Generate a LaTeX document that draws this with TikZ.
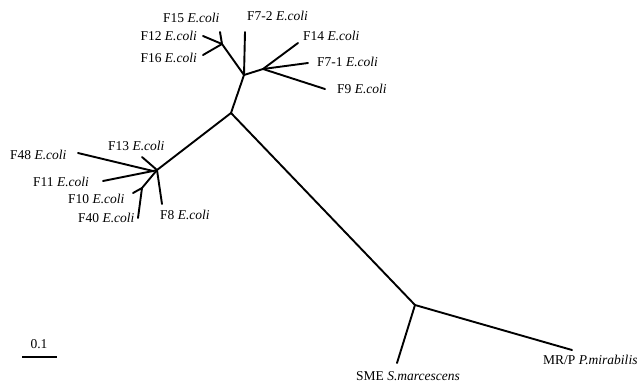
\documentclass[tikz,border=0pt]{standalone}
\usepackage{fontspec}
\setmainfont{Liberation Serif}
\begin{document}
\begin{tikzpicture}[x=1pt,y=-1pt,
  br/.style={line width=1.9pt, line cap=round, line join=round},
  lab/.style={inner sep=0pt, font=\fontsize{13.5}{15}\selectfont}]
\useasboundingbox (0,0) rectangle (637,384);
% internal nodes
\coordinate (A) at (231,113);
\coordinate (B) at (415,305);
\coordinate (C) at (244,75);
\coordinate (D) at (222,44);
\coordinate (E) at (263,69);
\coordinate (G) at (157,170);
\coordinate (K) at (153,171);
\coordinate (H) at (142,188);
% leaves
\coordinate (lSME) at (397,363);
\coordinate (lMRP) at (572,350);
\coordinate (lF15) at (220,32);
\coordinate (lF12) at (203,36);
\coordinate (lF16) at (203,55);
\coordinate (lF72) at (245,32);
\coordinate (lF14) at (298,43);
\coordinate (lF71) at (308,63);
\coordinate (lF9) at (325,89);
\coordinate (lF13) at (142,157);
\coordinate (lF8) at (162,204);
\coordinate (lF48) at (78,153);
\coordinate (lF11) at (103,181);
\coordinate (lF10) at (133,193);
\coordinate (lF40) at (138,218);
% branches
\draw[br] (A) -- (B);
\draw[br] (B) -- (lSME);
\draw[br] (B) -- (lMRP);
\draw[br] (A) -- (C);
\draw[br] (C) -- (D);
\draw[br] (D) -- (lF15);
\draw[br] (D) -- (lF12);
\draw[br] (D) -- (lF16);
\draw[br] (C) -- (lF72);
\draw[br] (C) -- (E);
\draw[br] (E) -- (lF14);
\draw[br] (E) -- (lF71);
\draw[br] (E) -- (lF9);
\draw[br] (A) -- (G);
\draw[br] (G) -- (lF13);
\draw[br] (G) -- (lF8);
\draw[br] (G) -- (K);
\draw[br] (K) -- (lF48);
\draw[br] (K) -- (lF11);
\draw[br] (G) -- (H);
\draw[br] (H) -- (lF10);
\draw[br] (H) -- (lF40);
% labels
\node[lab, anchor=west] (tF15) at (163,18) {F15 \textit{E.coli}};
\node[lab, anchor=west] (tF72) at (247,16) {F7-2 \textit{E.coli}};
\node[lab, anchor=east] (tF12) at (197,36) {F12 \textit{E.coli}};
\node[lab, anchor=east] (tF16) at (197,58) {F16 \textit{E.coli}};
\node[lab, anchor=west] (tF14) at (303,36) {F14 \textit{E.coli}};
\node[lab, anchor=west] (tF71) at (317,62) {F7-1 \textit{E.coli}};
\node[lab, anchor=west] (tF9) at (337,89) {F9 \textit{E.coli}};
\node[lab, anchor=west] (tF48) at (10,155) {F48 \textit{E.coli}};
\node[lab, anchor=west] (tF13) at (108,146) {F13 \textit{E.coli}};
\node[lab, anchor=west] (tF11) at (33,182) {F11 \textit{E.coli}};
\node[lab, anchor=west] (tF10) at (68,199) {F10 \textit{E.coli}};
\node[lab, anchor=west] (tF40) at (78,218) {F40 \textit{E.coli}};
\node[lab, anchor=west] (tF8) at (160,215) {F8 \textit{E.coli}};
\node[lab, anchor=west] (tSME) at (356,376.5) {SME \textit{S.marcescens}};
\node[lab, anchor=west] (tMRP) at (543,360) {MR/P \textit{P.mirabilis}};
% scale bar
\coordinate (s1) at (22,357);
\coordinate (s2) at (57,357);
\draw[line width=1.3pt] (s1) -- (s2);
\node[lab] (tscale) at (39,344) {0.1};
\end{tikzpicture}
\end{document}
